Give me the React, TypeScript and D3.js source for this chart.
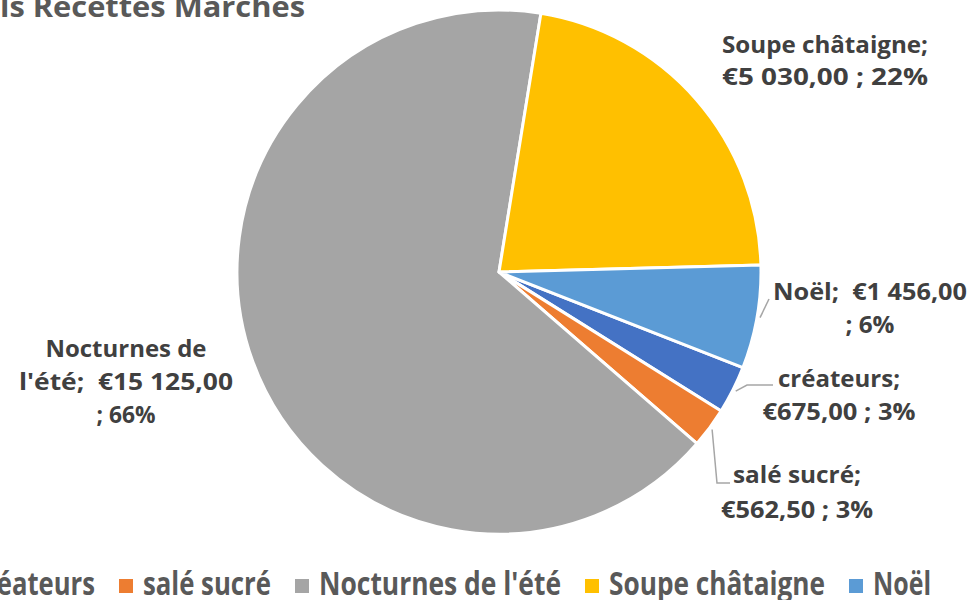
import React from "react";
import * as d3 from "d3";

const categories = ["créateurs", "salé sucré", "Nocturnes de l'été", "Soupe châtaigne", "Noël"];
const values = [675, 562.5, 15125, 5030, 1456];
const colors = ["#4472C4", "#ED7D31", "#A5A5A5", "#FFC000", "#5B9BD5"];
const titleText = "ls Recettes Marchés";

// layout (label anchor centres + baselines, line widths, leader elbows)
const labelCx = [839, 797, 126, 825, 870];
const labelBase = [387, 483, 357, 53, 300];
const labelStep = [33, 35, 33, 32, 33];
const labelWidths = [
  [122, 153],
  [128, 152],
  [161, 214, 59],
  [206, 206],
  [194, 49],
];
const leaderElbow: ([number, number][] | null)[] = [
  [[747, 385], [773, 385]],
  [[717, 483], [730, 483]],
  null,
  null,
  [[769, 299]],
];
const legendWidths = [123, 128, 242, 216, 58];

const W = 974, H = 600;
const cx = 499, cy = 272, R = 262;
const FONT = "'Open Sans', Lato, sans-serif";

const loc = d3.formatLocale({ decimal: ",", thousands: "\u00a0", grouping: [3], currency: ["€", ""] });
const fmtMoney = loc.format("$,.2f");

// Percentages rounded so they sum to 100 (largest remainder), as the chart shows
function roundedPercents(vals: number[]): number[] {
  const total = d3.sum(vals);
  const raw = vals.map((v) => (v / total) * 100);
  const fl = raw.map(Math.floor);
  let rest = 100 - d3.sum(fl);
  const order = d3.range(vals.length).sort((a, b) => (raw[b] - fl[b]) - (raw[a] - fl[a]));
  for (const k of order) {
    if (rest <= 0) break;
    fl[k] += 1;
    rest -= 1;
  }
  return fl;
}

function lines(i: number, pct: string): string[] {
  const name = categories[i];
  const v = fmtMoney(values[i]);
  if (i === 2) {
    const parts = name.split(" ");
    return [parts.slice(0, 2).join(" "), `${parts.slice(2).join(" ")};  ${v}`, `; ${pct}`];
  }
  if (i === 4) return [`${name};  ${v}`, `; ${pct}`];
  return [`${name};`, `${v} ; ${pct}`];
}

export default function App() {
  const start = (111.4 * Math.PI) / 180;
  const pie = d3.pie<number>().sort(null).startAngle(start).endAngle(start + 2 * Math.PI);
  const arcs = pie(values);
  const arc = d3.arc<d3.PieArcDatum<number>>().innerRadius(0).outerRadius(R);
  const pcts = roundedPercents(values);

  let lx = -52;
  const legendItems = categories.map((c, i) => {
    const sq = lx;
    lx += 14 + 10 + legendWidths[i] + 24;
    return { c, i, sq, tx: sq + 24 };
  });

  return (
    <svg width={W} height={H} style={{ position: "absolute", left: 0, top: 0, background: "#fff" }}>
      <rect width={W} height={H} fill="#fff" />
      <text x={0} y={17} fontFamily={FONT} fontWeight={700} fontSize={29} fill="#595959" textLength={305} lengthAdjust="spacingAndGlyphs">
        {titleText}
      </text>
      <g transform={`translate(${cx},${cy})`}>
        {arcs.map((a, i) => (
          <path key={i} d={arc(a) || ""} fill={colors[i]} stroke="#fff" strokeWidth={3} strokeLinejoin="round" />
        ))}
      </g>
      {arcs.map((a, i) => {
        const el = leaderElbow[i];
        if (!el) return null;
        const mid = (a.startAngle + a.endAngle) / 2;
        const p0: [number, number] = [cx + (R + 3) * Math.sin(mid), cy - (R + 3) * Math.cos(mid)];
        const pts = [p0, ...el];
        return (
          <polyline key={i} points={pts.map((p) => p.join(",")).join(" ")} fill="none" stroke="#A6A6A6" strokeWidth={1.5} />
        );
      })}
      {arcs.map((a, i) => {
        const pct = pcts[i] + "%";
        const ls = lines(i, pct);
        return (
          <g key={i}>
            {ls.map((l, j) => (
              <text
                key={j}
                x={labelCx[i]}
                y={labelBase[i] + j * labelStep[i]}
                fontFamily={FONT}
                fontWeight={700}
                fontSize={24}
                fill="#404040"
                textAnchor="middle"
                textLength={labelWidths[i][j]}
                lengthAdjust="spacingAndGlyphs"
                style={{ whiteSpace: "pre" }}
              >
                {l}
              </text>
            ))}
          </g>
        );
      })}
      {legendItems.map(({ c, i, sq, tx }) => (
        <g key={i}>
          <rect x={sq} y={579} width={14} height={14} fill={colors[i]} />
          <text x={tx} y={595} fontFamily={FONT} fontWeight={700} fontSize={32} fill="#595959" textLength={legendWidths[i]} lengthAdjust="spacingAndGlyphs">
            {c}
          </text>
        </g>
      ))}
    </svg>
  );
}
